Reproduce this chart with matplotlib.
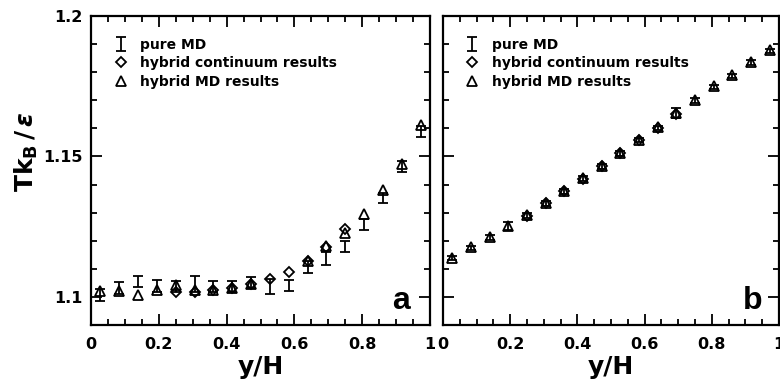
import matplotlib
matplotlib.use("Agg")
import matplotlib.pyplot as plt
from matplotlib.ticker import MultipleLocator, FixedLocator

plt.rcParams['font.family'] = ['DejaVu Sans']
plt.rcParams['font.weight'] = 'bold'
plt.rcParams['mathtext.fontset'] = 'dejavusans'

# ---------------- data ----------------
y_pos = [0.028, 0.083, 0.139, 0.194, 0.25, 0.306, 0.361, 0.417, 0.472,
         0.528, 0.583, 0.639, 0.694, 0.75, 0.806, 0.861, 0.917, 0.972]

# panel a
pure_md_a = [1.1007, 1.1032, 1.1055, 1.1039, 1.1037, 1.1046, 1.1037, 1.1038, 1.1050,
             1.1037, 1.1041, 1.1107, 1.1138, 1.1180, 1.1257, 1.1352, 1.1463, 1.1590]
pure_err_a = [0.0020, 0.0022, 0.0020, 0.0022, 0.0021, 0.0027, 0.0021, 0.0020, 0.0020,
              0.0026, 0.0020, 0.0021, 0.0023, 0.0020, 0.0020, 0.0019, 0.0020, 0.0020]
cont_x_a = [0.25, 0.306, 0.361, 0.417, 0.472, 0.528, 0.583, 0.639, 0.694, 0.75]
cont_a = [1.1017, 1.1019, 1.1025, 1.1033, 1.1045, 1.1063, 1.1089, 1.1128, 1.1176, 1.1242]
hmd_x_a = [0.028, 0.083, 0.139, 0.194, 0.25, 0.306, 0.361, 0.417, 0.472,
           0.639, 0.694, 0.75, 0.806, 0.861, 0.917, 0.972]
hmd_a = [1.1020, 1.1020, 1.1007, 1.1025, 1.1042, 1.1025, 1.1025, 1.1033, 1.1047,
         1.1128, 1.1180, 1.1228, 1.1296, 1.1380, 1.1474, 1.1611]

# panel b
pure_md_b = [1.1138, 1.1174, 1.1212, 1.1253, 1.1290, 1.1333, 1.1376, 1.1421, 1.1465,
             1.1511, 1.1558, 1.1602, 1.1656, 1.1700, 1.1748, 1.1787, 1.1835, 1.1876]
pure_err_b = [0.0008, 0.0008, 0.0008, 0.0015, 0.0009, 0.0008, 0.0008, 0.0008, 0.0008,
              0.0008, 0.0008, 0.0008, 0.0018, 0.0008, 0.0008, 0.0008, 0.0008, 0.0008]
cont_x_b = [0.25, 0.306, 0.361, 0.417, 0.472, 0.528, 0.583, 0.639, 0.694]
cont_b = [1.1289, 1.1333, 1.1376, 1.1421, 1.1465, 1.1511, 1.1558, 1.1602, 1.1652]
hmd_x_b = y_pos
hmd_b = [1.1140, 1.1176, 1.1214, 1.1251, 1.1292, 1.1335, 1.1378, 1.1423, 1.1467,
         1.1513, 1.1560, 1.1604, 1.1656, 1.1702, 1.1750, 1.1789, 1.1837, 1.1878]

labels = ['pure MD', 'hybrid continuum results', 'hybrid MD results']
panel_tags = ['a', 'b']
xticks = [0, 0.2, 0.4, 0.6, 0.8, 1]
xticklabels = ['0', '0.2', '0.4', '0.6', '0.8', '1']
yticks = [1.1, 1.15, 1.2]
yticklabels = ['1.1', '1.15', '1.2']

# ---------------- figure ----------------
fig = plt.figure(figsize=(7.8, 3.81), dpi=100)
W, H = 780, 381
ax_a = fig.add_axes([91 / W, (H - 325) / H, 339 / W, 309 / H])
ax_b = fig.add_axes([443 / W, (H - 325) / H, 336 / W, 309 / H])

panels = [
    (ax_a, pure_md_a, pure_err_a, cont_x_a, cont_a, hmd_x_a, hmd_a),
    (ax_b, pure_md_b, pure_err_b, cont_x_b, cont_b, hmd_x_b, hmd_b),
]
tag_x = [0.941, 0.952]

for k, (ax, pm, pe, cx, cy, hx, hy) in enumerate(panels):
    eb = ax.errorbar(y_pos, pm, yerr=pe, fmt='none', ecolor='black',
                     elinewidth=1.3, capsize=3.6, capthick=1.3, zorder=2)
    d, = ax.plot(cx, cy, linestyle='none', marker='D', markersize=5.5,
                 markerfacecolor='none', markeredgecolor='black', markeredgewidth=1.3,
                 zorder=3)
    t, = ax.plot(hx, hy, linestyle='none', marker='^', markersize=6.5,
                 markerfacecolor='none', markeredgecolor='black', markeredgewidth=1.3,
                 zorder=4)

    ax.set_xlim(0, 1)
    ax.set_ylim(1.09, 1.2)
    ax.xaxis.set_major_locator(FixedLocator(xticks))
    ax.xaxis.set_minor_locator(MultipleLocator(0.05))
    ax.yaxis.set_major_locator(FixedLocator(yticks))
    ax.yaxis.set_minor_locator(MultipleLocator(0.01))
    ax.set_xticklabels(xticklabels)
    ax.tick_params(which='both', direction='in', top=True, right=True,
                   width=1.3, labelsize=11.5)
    ax.tick_params(axis='x', which='major', pad=8.5)
    ax.tick_params(axis='y', which='major', pad=6)
    ax.tick_params(which='major', length=8)
    ax.tick_params(which='minor', length=4.5)
    for sp in ax.spines.values():
        sp.set_linewidth(1.6)
    for lab in ax.get_xticklabels() + ax.get_yticklabels():
        lab.set_fontweight('bold')

    ax.set_xlabel('y/H', fontsize=18, fontweight='bold', labelpad=2)

    ax.legend([eb, d, t], labels, loc='upper left', bbox_to_anchor=(0.069, 0.93),
              frameon=False, prop={'weight': 'bold', 'size': 10}, handlelength=0.9,
              handletextpad=0.95, labelspacing=0.34, borderaxespad=0.0, borderpad=0.0)

    ax.text(tag_x[k], 0.052, panel_tags[k], transform=ax.transAxes, ha='right',
            va='baseline', fontsize=23, fontweight='bold', family='Liberation Sans')

ax_a.set_yticklabels(yticklabels)
ax_b.tick_params(labelleft=False)
ax_a.set_ylabel(r'$\mathbf{Tk_B}\,\mathbf{/}\,\varepsilon$', fontsize=18)
ax_a.yaxis.set_label_coords(-0.15, 0.56)

fig.savefig('out.png', dpi=100)
